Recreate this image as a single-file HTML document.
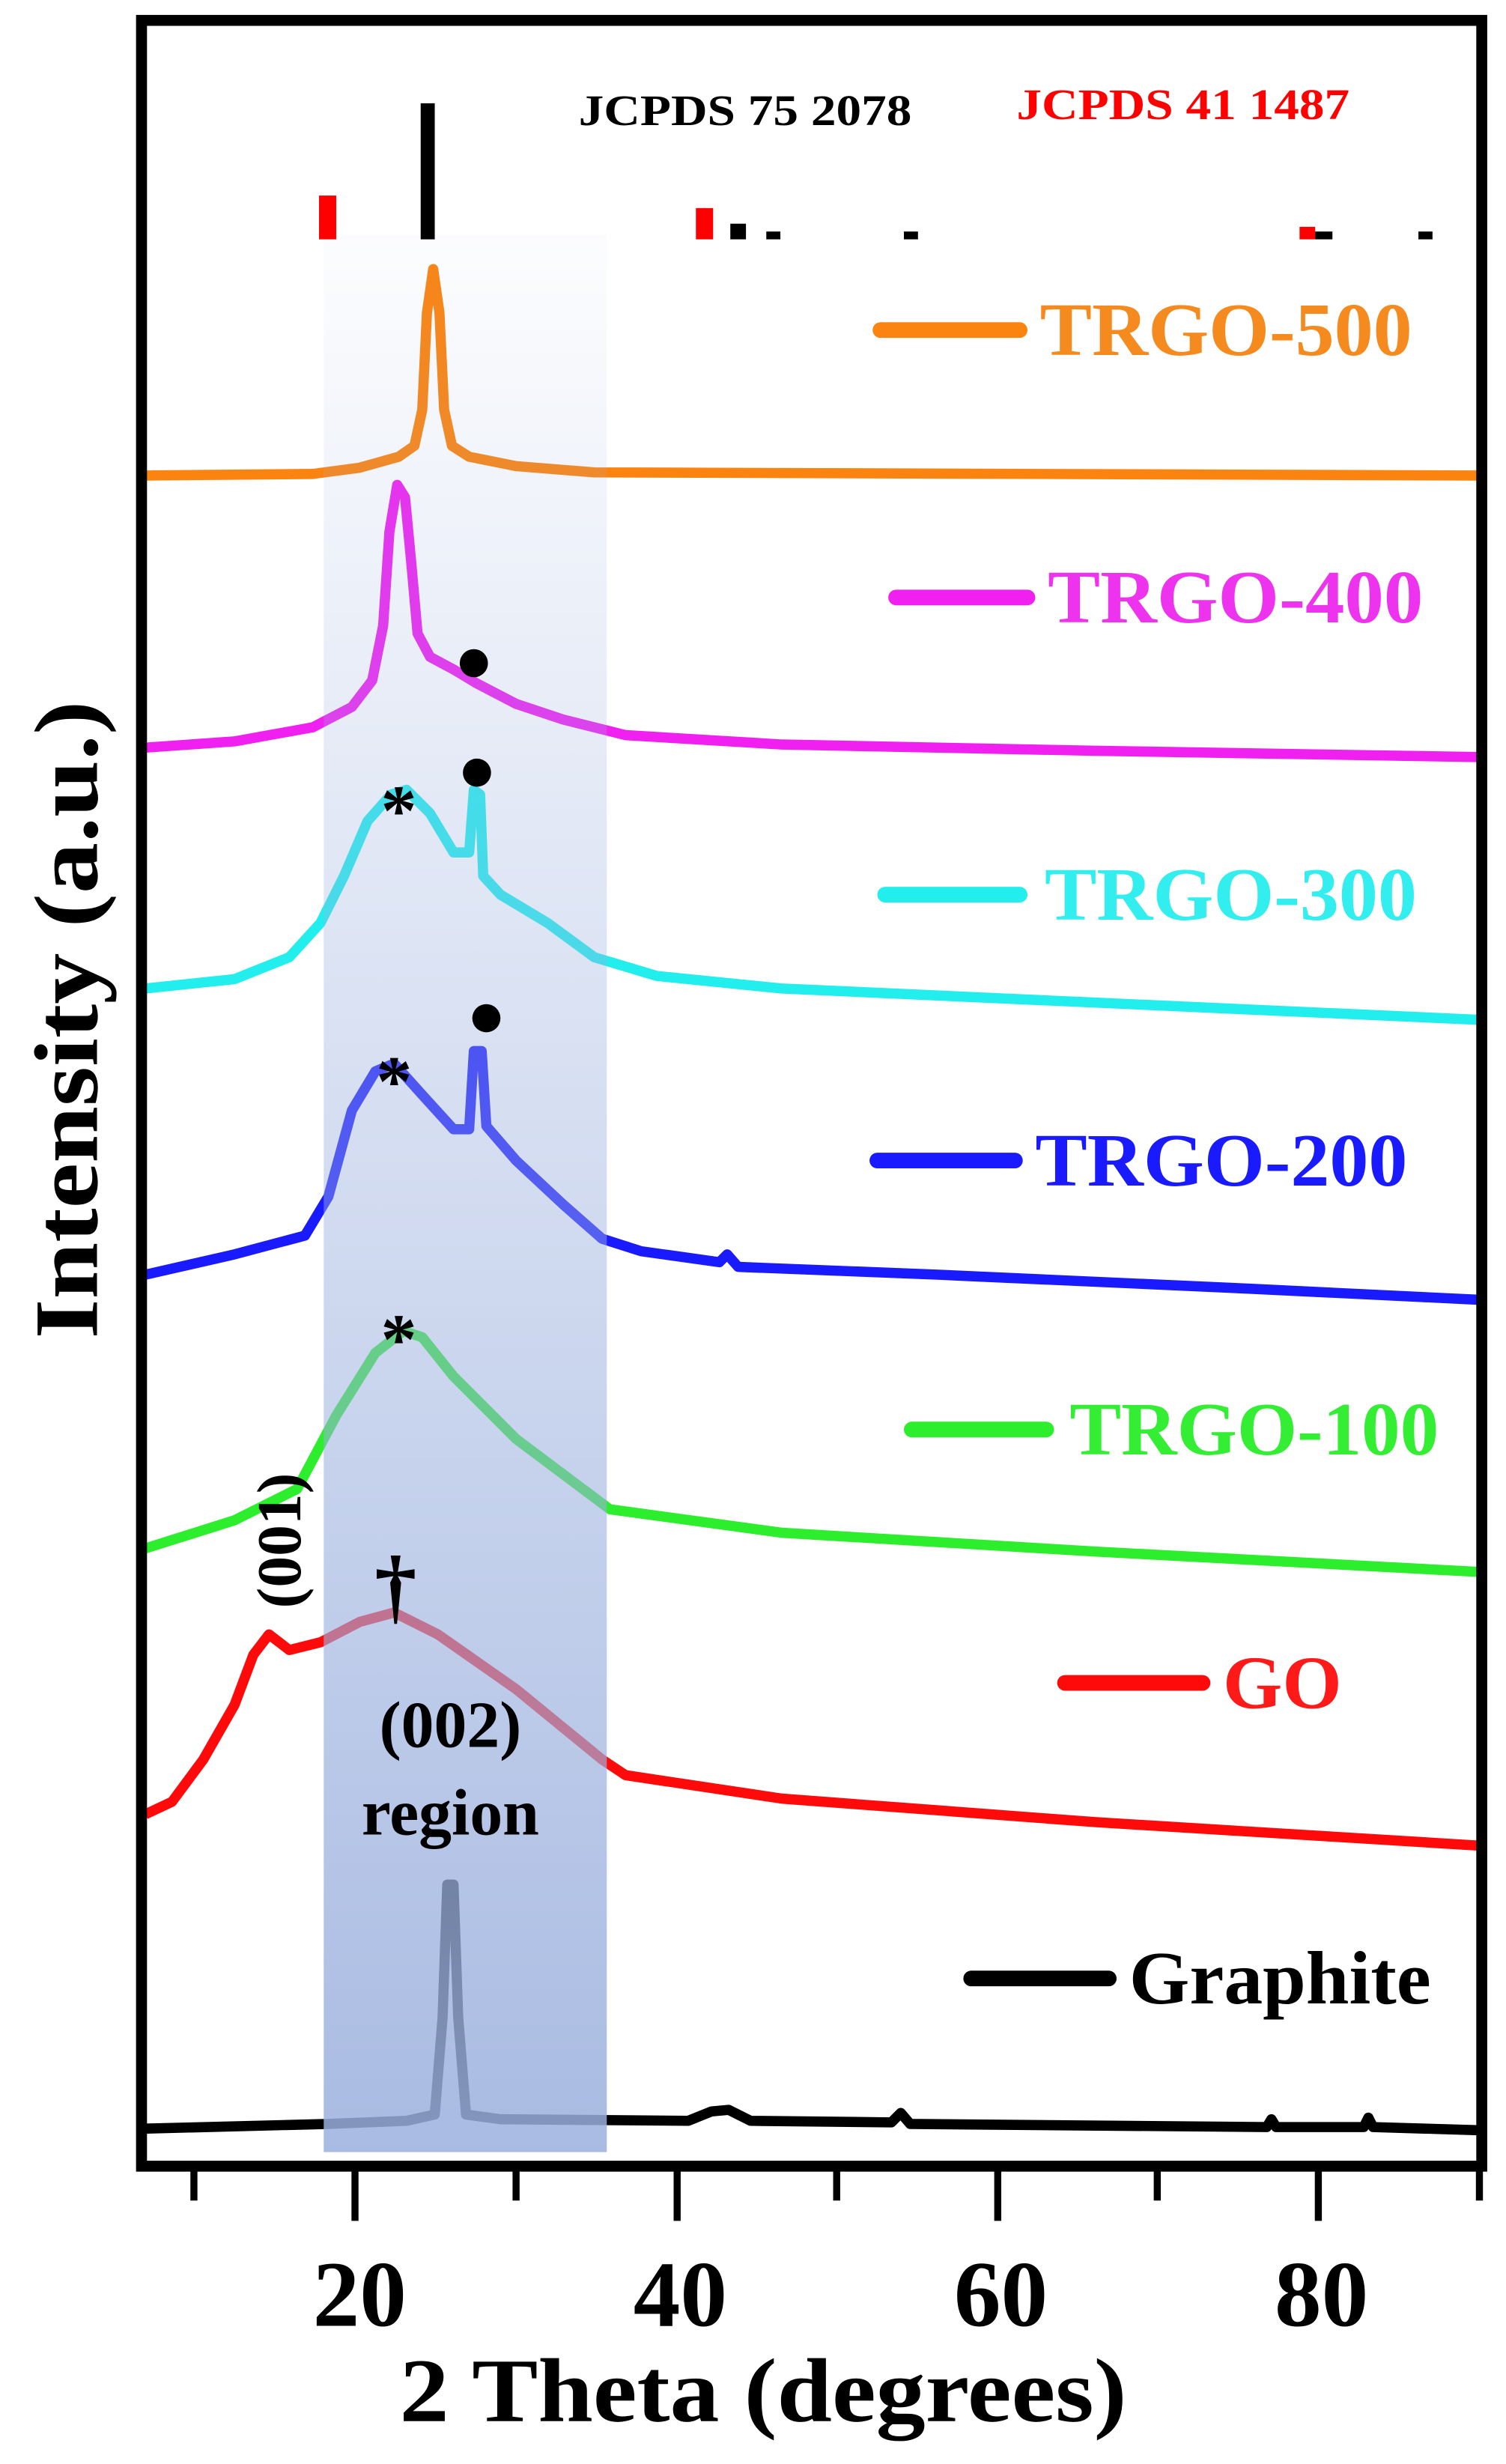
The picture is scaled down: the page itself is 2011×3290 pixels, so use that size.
<!DOCTYPE html>
<html><head><meta charset="utf-8"><style>
html,body{margin:0;padding:0;background:#fff;}
svg{display:block;}
text{font-family:"Liberation Serif",serif;font-weight:bold;}
</style></head><body>
<svg width="2011" height="3290" viewBox="0 0 963 1575.4" xmlns="http://www.w3.org/2000/svg">
<defs>
<linearGradient id="bx" x1="0" y1="0" x2="0" y2="1">
<stop offset="0" stop-color="rgb(155,176,222)" stop-opacity="0.03"/>
<stop offset="0.5" stop-color="rgb(155,176,222)" stop-opacity="0.45"/>
<stop offset="1" stop-color="rgb(155,176,222)" stop-opacity="0.86"/>
</linearGradient>
</defs>
<rect width="963" height="1576" fill="#fff"/>
<g fill="none" stroke-width="6.5" stroke-linejoin="round">
<path stroke="#fb8410" d="M93 304 L200 303 L230 299 L255 292 L265 285 L270 262 L273 200 L277 172 L281 200 L284 262 L289 285 L300 292 L330 298 L380 302 L945 304"/>
<path stroke="#f020f0" d="M93 478 L150 474 L200 465 L225 452 L238 435 L245 400 L249 340 L254 310 L259 318 L263 360 L267 405 L275 420 L290 428 L305 437 L330 450 L360 460 L400 470 L500 476 L700 480 L945 484"/>
<path stroke="#22eeee" d="M93 632 L150 626 L185 612 L205 590 L220 560 L235 525 L250 508 L260 505 L275 520 L290 545 L300 545 L303 505 L307 508 L309 560 L320 572 L350 590 L380 612 L420 624 L500 632 L700 641 L945 652"/>
<path stroke="#1a1aff" d="M93 815 L150 802 L195 790 L210 765 L225 710 L240 685 L252 680 L270 700 L290 722 L300 722 L303 672 L308 672 L311 720 L330 742 L360 770 L385 792 L410 800 L460 807 L465 802 L472 810 L600 815 L800 824 L945 831"/>
<path stroke="#2cee2c" d="M93 990 L150 972 L190 952 L215 905 L240 865 L258 851 L270 855 L290 880 L330 920 L390 965 L500 980 L700 992 L945 1005"/>
<path stroke="#ff0a0a" d="M93 1160 L110 1152 L130 1125 L150 1090 L162 1058 L172 1045 L185 1055 L205 1050 L230 1037 L252 1031 L280 1045 L330 1080 L385 1125 L400 1135 L500 1150 L700 1165 L945 1180"/>
<path stroke="#000" d="M93 1361 L210 1358 L260 1356 L278 1352 L283 1290 L286 1205 L290 1205 L293 1290 L298 1352 L320 1355 L440 1356 L455 1350 L466 1349 L480 1356 L570 1357 L576 1351 L582 1358 L810 1360 L813 1355 L816 1360 L872 1360 L875 1354 L878 1360 L945 1362"/>
</g>
<rect x="207" y="150" width="181" height="1226" fill="url(#bx)"/>
<rect x="90.5" y="13" width="857" height="1372" fill="none" stroke="#000" stroke-width="7"/>
<g stroke="#000" stroke-width="4.5">
<line x1="227" y1="1385" x2="227" y2="1420"/><line x1="433" y1="1385" x2="433" y2="1420"/>
<line x1="638" y1="1385" x2="638" y2="1420"/><line x1="843" y1="1385" x2="843" y2="1420"/>
<line x1="124" y1="1385" x2="124" y2="1407"/><line x1="330" y1="1385" x2="330" y2="1407"/>
<line x1="535" y1="1385" x2="535" y2="1407"/><line x1="740" y1="1385" x2="740" y2="1407"/>
<line x1="946" y1="1385" x2="946" y2="1407"/>
</g>
<g font-size="60" text-anchor="middle" fill="#000">
<text x="230" y="1487">20</text><text x="435" y="1487">40</text>
<text x="640" y="1487">60</text><text x="845" y="1487">80</text>
<text x="488" y="1548" font-size="58" textLength="465" lengthAdjust="spacingAndGlyphs">2 Theta (degrees)</text>
<text transform="translate(62,652) rotate(-90)" font-size="58" textLength="408" lengthAdjust="spacingAndGlyphs">Intensity (a.u.)</text>
</g>
<g>
<rect x="269" y="66" width="9" height="87" fill="#000"/>
<rect x="204" y="125" width="11" height="28" fill="#f00"/>
<rect x="445" y="133" width="11" height="20" fill="#f00"/>
<rect x="467" y="143" width="10" height="10" fill="#000"/>
<rect x="490" y="148" width="9" height="5" fill="#000"/>
<rect x="578" y="148" width="9" height="5" fill="#000"/>
<rect x="831" y="145" width="10" height="8" fill="#f00"/>
<rect x="841" y="148" width="11" height="5" fill="#000"/>
<rect x="907" y="148" width="9" height="5" fill="#000"/>
</g>
<text x="370" y="80" font-size="28" fill="#000" textLength="213" lengthAdjust="spacingAndGlyphs">JCPDS 75 2078</text>
<text x="650" y="76" font-size="28" fill="#f00" textLength="213" lengthAdjust="spacingAndGlyphs">JCPDS 41 1487</text>
<g stroke-width="10" stroke-linecap="round">
<line x1="563" y1="211" x2="652" y2="211" stroke="#fb8410"/>
<line x1="573" y1="382" x2="657" y2="382" stroke="#f020f0"/>
<line x1="566" y1="572" x2="652" y2="572" stroke="#22eeee"/>
<line x1="561" y1="742" x2="649" y2="742" stroke="#1a1aff"/>
<line x1="583" y1="914" x2="669" y2="914" stroke="#2cee2c"/>
<line x1="681" y1="1076" x2="769" y2="1076" stroke="#ff0a0a"/>
<line x1="621" y1="1265" x2="709" y2="1265" stroke="#000"/>
</g>
<g font-size="48">
<text x="665" y="227" fill="#f58a1f" textLength="238" lengthAdjust="spacingAndGlyphs">TRGO-500</text>
<text x="670" y="398" fill="#ee33ee" textLength="240" lengthAdjust="spacingAndGlyphs">TRGO-400</text>
<text x="668" y="588" fill="#33eeee" textLength="238" lengthAdjust="spacingAndGlyphs">TRGO-300</text>
<text x="662" y="758" fill="#1a1aff" textLength="238" lengthAdjust="spacingAndGlyphs">TRGO-200</text>
<text x="684" y="930" fill="#33ee33" textLength="236" lengthAdjust="spacingAndGlyphs">TRGO-100</text>
<text x="782" y="1092" fill="#ff1a1a" textLength="76" lengthAdjust="spacingAndGlyphs">GO</text>
<text x="722" y="1281" fill="#000" textLength="193" lengthAdjust="spacingAndGlyphs">Graphite</text>
</g>
<g fill="#000">
<circle cx="303" cy="424" r="9"/><circle cx="305" cy="494" r="9"/><circle cx="311" cy="651" r="9"/>
</g>
<g font-size="46" text-anchor="middle" fill="#000">
<text x="255" y="534">*</text><text x="252" y="707">*</text><text x="255" y="872">*</text>
<text x="253" y="1032" font-size="54">†</text>
<text x="288" y="1117" font-size="42">(002)</text>
<text x="288" y="1173" font-size="42">region</text>
<text transform="translate(192,985) rotate(-90)" font-size="40">(001)</text>
</g>
</svg>
</body></html>
